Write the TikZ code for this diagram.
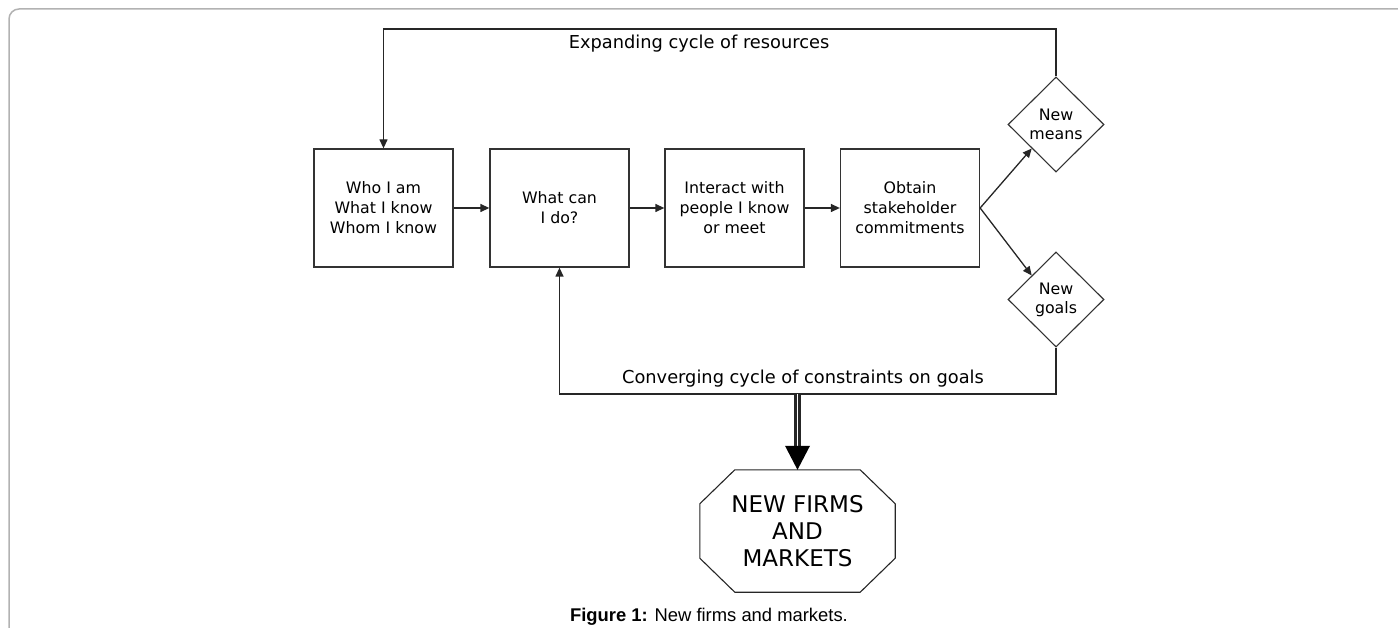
\documentclass[tikz,border=0pt]{standalone}
\usepackage{fontspec}
\setmainfont{DejaVu Sans}
\newfontfamily\capfont{Liberation Sans}
\usetikzlibrary{arrows.meta,calc,shapes.geometric}
\begin{document}
\begin{tikzpicture}[x=1pt,y=-1pt,
  box/.style={draw=black!80, line width=1.3pt, minimum width=139pt, minimum height=118pt, align=center, inner sep=0pt, font=\fontsize{15.8}{20}\selectfont},
  dia/.style={draw=black!80, line width=1.1pt, shape=diamond, minimum width=96pt, minimum height=95pt, inner sep=0pt, align=center, font=\fontsize{15.8}{19}\selectfont},
  conn/.style={draw=black!85, line width=1.3pt},
  arr/.style={conn, -{Triangle[length=9pt,width=8pt]}},
  lab/.style={font=\fontsize{17.8}{20}\selectfont, inner sep=0pt},
  firmtext/.style={minimum width=195pt, minimum height=122pt, inner sep=0pt, align=center, font=\fontsize{23}{26.7}\selectfont},
  frame/.style={draw=black!30, line width=1.5pt, rounded corners=10pt}]
\useasboundingbox (0,0) rectangle (1398,628);
% outer frame
\draw[frame] (9,640) -- (9,9) -- (1410,9);
% boxes
\node[box] (who) at (383.5,208) {Who I am\\What I know\\Whom I know};
\node[box] (what) at (559.5,208) {What can\\I do?};
\node[box] (inter) at (734.5,208) {Interact with\\people I know\\or meet};
\node[box] (obtain) at (910,208) {Obtain\\stakeholder\\commitments};
\node[dia] (means) at (1056,124.5) {New\\means};
\node[dia] (goals) at (1056,299.5) {New\\goals};
\node[lab] (exp) at (699,44) {Expanding cycle of resources};
\node[lab] (conv) at (803,379) {Converging cycle of constraints on goals};
\node[firmtext] (firms) at (797.5,531) {NEW FIRMS\\AND\\MARKETS};
\draw[conn, line width=1.1pt]
  ($(firms.north west)+(35,0)$) -- ($(firms.north east)+(-35,0)$) --
  ($(firms.north east)+(0,34)$) -- ($(firms.south east)+(0,-34)$) --
  ($(firms.south east)+(-35,0)$) -- ($(firms.south west)+(35,0)$) --
  ($(firms.south west)+(0,-34)$) -- ($(firms.north west)+(0,34)$) -- cycle;
% connectors
\draw[arr] (who.east) -- (what.west);
\draw[arr] (what.east) -- (inter.west);
\draw[arr] (inter.east) -- (obtain.west);
\draw[arr] (obtain.east) -- ($(means.west)!0.5!(means.south)$);
\draw[arr] (obtain.east) -- ($(goals.west)!0.5!(goals.north)$);
\coordinate (tl) at (383.5,29);
\coordinate (bl) at (559.5,394);
\coordinate (dstart) at (797.5,394);
\draw[arr] (means.north) |- (tl) -- (who.north);
\draw[arr] (goals.south) |- (bl) -- (what.south);
\draw[draw=black!85, line width=2.3pt, double=white, double distance=1.6pt] (dstart) -- ($(firms.north)+(0,-23)$);
\fill[black] ($(firms.north)+(-12.5,-24)$) -- ($(firms.north)+(12.5,-24)$) -- (firms.north) -- cycle;
% caption
\node[font=\capfont\fontsize{18.4}{22}\selectfont, inner sep=0pt] (cap) at (709,617) {\textbf{Figure 1:} New firms and markets.};
\end{tikzpicture}
\end{document}
